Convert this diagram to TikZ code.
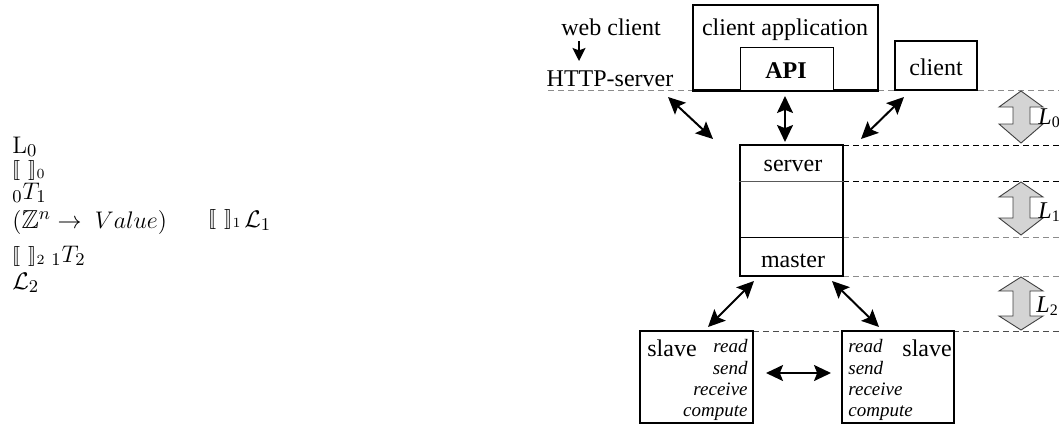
\documentclass[tikz,border=0pt]{standalone}
\usepackage{amssymb}
\usepackage{stmaryrd}
\usepackage[no-math]{fontspec}
\setmainfont{Liberation Serif}
\usetikzlibrary{arrows.meta}
\tikzset{
  box/.style={draw, line width=1pt, inner sep=0pt, fill=white},
  thinbox/.style={draw, line width=0.5pt, inner sep=0pt, fill=white},
  txt/.style={font=\fontsize{12}{14}\selectfont, inner sep=0pt, anchor=base},
  itx/.style={font=\fontsize{9.5}{11}\selectfont\itshape, inner sep=0pt},
  mth/.style={font=\fontsize{13}{15}\selectfont, inner sep=0pt, anchor=base west},
  mths/.style={font=\fontsize{10}{12}\selectfont, inner sep=0pt, anchor=base west},
  arr/.style={line width=1pt, {Stealth[length=8.5pt,width=8pt,inset=1.6pt]}-{Stealth[length=8.5pt,width=8pt,inset=1.6pt]}},
  dg/.style={dash pattern=on 3pt off 2pt, draw=black!45, line width=0.45pt},
  db/.style={dash pattern=on 3pt off 2pt, draw=black, line width=0.45pt},
  dd/.style={dash pattern=on 3pt off 2pt, draw=black!70, line width=0.5pt},
  bigarr/.style={fill=black!17, draw=black!75, line width=0.45pt},
}
\begin{document}
\begin{tikzpicture}[x=0.5pt,y=-0.5pt]
\useasboundingbox (0,0) rectangle (1059,424);
\clip (0,0) rectangle (1059,424);

% left formulas
\node[mth] (m0) at (12,153) {$\mathrm{L}_0$};
\node[mths] (m1) at (12,175) {$\llbracket\hspace{4pt}\rrbracket_0$};
\node[mth] (m2) at (12,199) {${}_0T_1$};
\node[mth] (m3) at (12,228) {$(\mathbb{Z}^n\rightarrow\ Value)$};
\node[mths] (m4) at (208,224) {$\llbracket\hspace{4pt}\rrbracket_1$};
\node[mth] (m5) at (244,227) {$\mathcal{L}_1$};
\node[mths] (m6) at (12,261) {$\llbracket\hspace{4pt}\rrbracket_2$};
\node[mth] (m7) at (51,262) {${}_1T_2$};
\node[mth] (m8) at (12,289) {$\mathcal{L}_2$};

% dashed level lines
\draw[dg] (548,90) -- (1059,90);
\draw[db] (843,145) -- (1059,145);
\draw[db] (843,181) -- (1059,181);
\draw[dg] (843,237) -- (1059,237);
\draw[dg] (843,276) -- (1059,276);
\draw[dd] (753,331) -- (1059,331);

% top row
\node[txt] (twc) at (611,35) {web client};
\node[txt] (thttp) at (610,86) {HTTP-server};
\coordinate (wca) at (579,41);
\coordinate (wcb) at (579,61);
\draw[line width=1pt, -{Stealth[length=6.5pt,width=6.5pt,inset=1.2pt]}] (wca) -- (wcb);

\node[box, minimum width=92.5pt, minimum height=42.5pt] (capp) at (785.5,47.5) {};
\node[txt] (tcapp) at (785,35) {client application};
\node[thinbox, minimum width=46.5pt, minimum height=21.5pt] (api) at (786.5,68.5) {};
\node[txt, font=\fontsize{12}{14}\selectfont\bfseries] (tapi) at (786,78) {API};
\draw[line width=1pt] (capp.south west) -- (capp.south east);

\node[box, minimum width=41pt, minimum height=24.5pt] (cl) at (936,65.5) {};
\node[txt] (tcl) at (936,75) {client};

% server / master
\node[box, minimum width=51.5pt, minimum height=65.5pt] (srv) at (791.5,210.5) {};
\draw[line width=0.5pt, black!65] (srv.west |- 0,181) -- (srv.east |- 0,181);
\draw[line width=0.5pt] (srv.west |- 0,237) -- (srv.east |- 0,237);
\node[txt] (tsrv) at (793,171) {server};
\node[txt] (tmst) at (793,267) {master};

% slaves
\node[box, minimum width=56.5pt, minimum height=46pt] (sl1) at (696.5,377) {};
\node[txt, anchor=base west] (tsl1) at (647,356) {slave};
\node[itx, anchor=base east] (r1) at (748,352) {read};
\node[itx, anchor=base east] (s1) at (748,374) {send};
\node[itx, anchor=base east] (v1) at (748,395) {receive};
\node[itx, anchor=base east] (c1) at (748,416) {compute};

\node[box, minimum width=56pt, minimum height=46pt] (sl2) at (898,377) {};
\node[txt, anchor=base west] (tsl2) at (902,356) {slave};
\node[itx, anchor=base west] (r2) at (848,352) {read};
\node[itx, anchor=base west] (s2) at (848,374) {send};
\node[itx, anchor=base west] (v2) at (848,395) {receive};
\node[itx, anchor=base west] (c2) at (848,416) {compute};

% connectors
\coordinate (ha) at (668,97);  \coordinate (hb) at (713,139);
\coordinate (va) at (785,96);  \coordinate (vb) at (785,142);
\coordinate (ca) at (904,97);  \coordinate (cb) at (861,139);
\coordinate (ma) at (754,281); \coordinate (mb) at (708,327);
\coordinate (mc) at (832,281); \coordinate (md) at (879,327);
\coordinate (sa) at (766,373); \coordinate (sb) at (831,373);
\draw[arr] (ha) -- (hb);
\draw[arr] (va) -- (vb);
\draw[arr] (ca) -- (cb);
\draw[arr] (ma) -- (mb);
\draw[arr] (mc) -- (md);
\draw[arr] (sa) -- (sb);

% big level arrows
\draw[bigarr] (1021,91) -- (1043,107) -- (1030,107) -- (1030,124) -- (1043,124) -- (1021,143)
  -- (999,124) -- (1013,124) -- (1013,107) -- (999,107) -- cycle;
\draw[bigarr] (1021,182) -- (1043,197) -- (1030,197) -- (1030,218) -- (1043,218) -- (1021,235)
  -- (999,218) -- (1013,218) -- (1013,197) -- (999,197) -- cycle;
\draw[bigarr] (1021,277) -- (1043,291) -- (1030,291) -- (1030,316) -- (1043,316) -- (1021,330)
  -- (999,316) -- (1013,316) -- (1013,291) -- (999,291) -- cycle;
\node[txt, anchor=base west] (l0) at (1038,124) {\textit{L}\textsubscript{0}};
\node[txt, anchor=base west] (l1) at (1038,218) {\textit{L}\textsubscript{1}};
\node[txt, anchor=base west] (l2) at (1036,312) {\textit{L}\textsubscript{2}};
\end{tikzpicture}
\end{document}
